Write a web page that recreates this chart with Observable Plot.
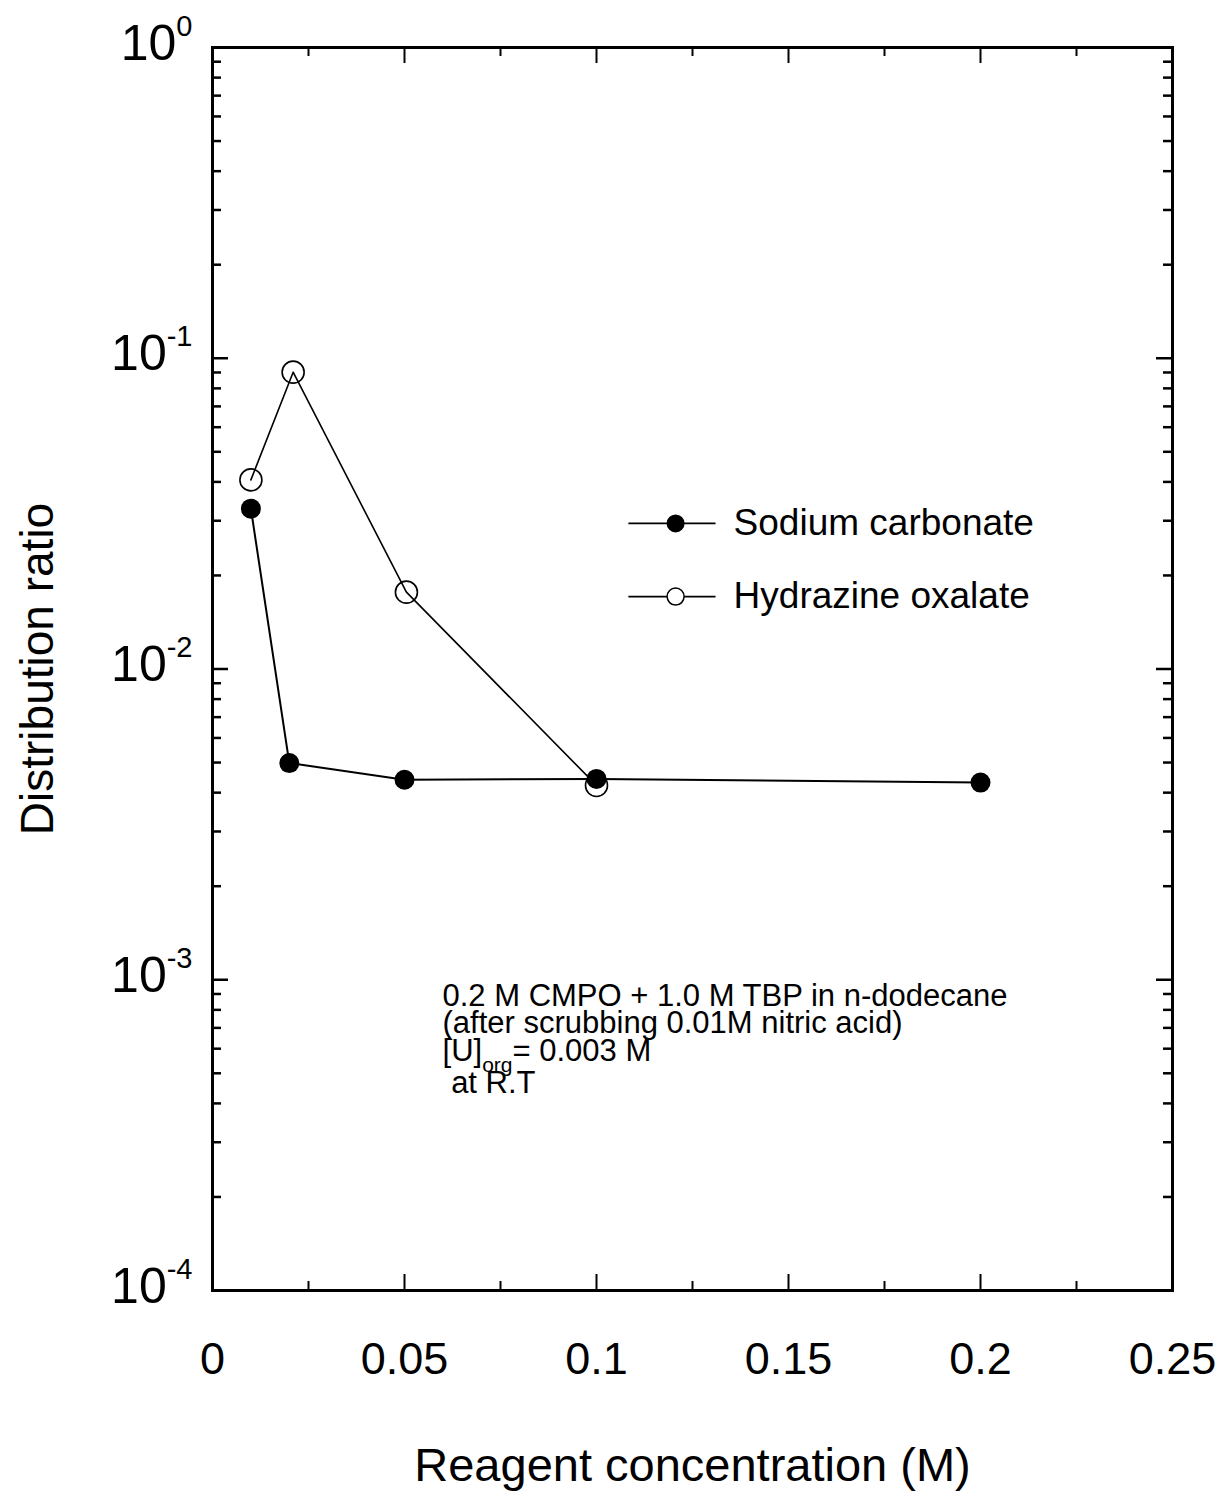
<!DOCTYPE html>
<html><head><meta charset="utf-8">
<script src="https://cdn.jsdelivr.net/npm/d3@7"></script>
<script src="https://cdn.jsdelivr.net/npm/@observablehq/plot@0.6"></script>
<style>
body{margin:0;background:#fff}
#chart svg{font-family:"Liberation Sans",Arial,Helvetica,sans-serif}
</style>
</head><body><div id="chart"></div>
<script>
// ---- data ----
const seriesNames = ["Sodium carbonate", "Hydrazine oxalate"];
const sodiumX = [0.01, 0.02, 0.05, 0.1, 0.2];
const sodiumY = [0.0328, 0.00498, 0.0044, 0.00443, 0.00431];
const hydrazineX = [0.01, 0.021, 0.0505, 0.1];
const hydrazineY = [0.0406, 0.0902, 0.01767, 0.00422];
const xTicks = [0, 0.05, 0.1, 0.15, 0.2, 0.25];
const xMinorTicks = [0.025, 0.075, 0.125, 0.175, 0.225];
const yTicks = [1e-4, 1e-3, 1e-2, 1e-1, 1];
const yTickExponents = ["-4", "-3", "-2", "-1", "0"];
const noteLines = ["0.2 M CMPO + 1.0 M TBP in n-dodecane", "(after scrubbing 0.01M nitric acid)", "[U]org= 0.003 M", "\u00a0at R.T"];
const xTitle = "Reagent concentration (M)";
const yTitle = "Distribution ratio";

// ---- layout ----
const W = 1224, H = 1491;
const mTop = 47, mRight = 52, mBottom = 201, mLeft = 212;
const innerW = W - mLeft - mRight, innerH = H - mTop - mBottom;
const majorLen = 16, minorLen = 9;
const noteFont = 31, noteLH = 0.88;

const yMinor = [];
for (let i = 0; i < yTicks.length - 1; i++) for (let k = 2; k <= 9; k++) yMinor.push(yTicks[i] * k);

const sodium = sodiumX.map((x, i) => ({x, y: sodiumY[i]}));
const hydrazine = hydrazineX.map((x, i) => ({x, y: hydrazineY[i]}));

// legend placement (data units)
const legX1 = 0.1083, legX2 = 0.131, legMark = 0.1206, legText = 0.1357;
const legY = [0.0294, 0.0171];
const legend = seriesNames.map((name, i) => ({name, y: legY[i]}));
const noteX = 0.0599, noteY = 9.5e-4;

const chart = Plot.plot({
  width: W, height: H,
  marginTop: mTop, marginRight: mRight, marginBottom: mBottom, marginLeft: mLeft,
  style: {fontFamily: "Liberation Sans, Arial, sans-serif", color: "black", background: "white", overflow: "visible"},
  x: {domain: [0, 0.25]},
  y: {type: "log", domain: [1e-4, 1]},
  marks: [
    // tick labels
    Plot.axisX(xTicks, {tickSize: 0, tickPadding: 52, fontSize: 45, tickFormat: d => String(d), label: null}),
    Plot.axisY(yTicks, {tickSize: 0, tickPadding: 20, fontSize: 50, dy: -4,
      tickFormat: d => "10^" + yTickExponents[yTicks.indexOf(d)], label: null}),
    // inward ticks: bottom / top
    Plot.tickX(xTicks.slice(1, -1), {x: d => d, insetTop: innerH - majorLen, strokeWidth: 2}),
    Plot.tickX(xMinorTicks, {x: d => d, insetTop: innerH - minorLen, strokeWidth: 2}),
    Plot.tickX(xTicks.slice(1, -1), {x: d => d, insetBottom: innerH - majorLen, strokeWidth: 2}),
    Plot.tickX(xMinorTicks, {x: d => d, insetBottom: innerH - minorLen, strokeWidth: 2}),
    // inward ticks: left / right
    Plot.tickY(yTicks, {y: d => d, insetRight: innerW - majorLen, strokeWidth: 2.5}),
    Plot.tickY(yMinor, {y: d => d, insetRight: innerW - minorLen, strokeWidth: 2.5}),
    Plot.tickY(yTicks, {y: d => d, insetLeft: innerW - majorLen, strokeWidth: 2.5}),
    Plot.tickY(yMinor, {y: d => d, insetLeft: innerW - minorLen, strokeWidth: 2.5}),
    Plot.frame({stroke: "black", strokeWidth: 3}),
    // series
    Plot.line(hydrazine, {x: "x", y: "y", stroke: "black", strokeWidth: 1.6}),
    Plot.dot(hydrazine, {x: "x", y: "y", r: 11, stroke: "black", strokeWidth: 1.6, fill: "none"}),
    Plot.line(sodium, {x: "x", y: "y", stroke: "black", strokeWidth: 2}),
    Plot.dot(sodium, {x: "x", y: "y", r: 10, fill: "black", stroke: "none"}),
    // legend
    Plot.link(legend, {x1: () => legX1, x2: () => legX2, y1: "y", y2: "y", stroke: "black", strokeWidth: 1.8}),
    Plot.dot(legend.slice(0, 1), {x: () => legMark, y: "y", r: 9, fill: "black"}),
    Plot.dot(legend.slice(1), {x: () => legMark, y: "y", r: 8.5, fill: "white", stroke: "black", strokeWidth: 1.5}),
    Plot.text(legend, {x: () => legText, y: "y", text: "name", textAnchor: "start", fontSize: 37, fill: "black"}),
    // annotation
    Plot.text([noteLines.join("\n")], {x: () => noteX, y: () => noteY, text: d => d, textAnchor: "start",
      lineAnchor: "top", lineHeight: noteLH, fontSize: noteFont, fill: "black"}),
    // axis titles
    Plot.text([yTitle], {frameAnchor: "left", text: d => d, rotate: -90, dx: -174, textAnchor: "middle", lineAnchor: "middle", fontSize: 46, fill: "black"}),
    Plot.text([xTitle], {frameAnchor: "bottom", text: d => d, dy: 175, textAnchor: "middle", lineAnchor: "middle", fontSize: 47, fill: "black"})
  ]
});

// superscript exponents on y tick labels
d3.select(chart).selectAll('g[aria-label="y-axis tick label"] text').each(function () {
  const t = this.textContent;
  const m = t.match(/^10\^(.*)$/);
  if (!m) return;
  const sel = d3.select(this);
  sel.text(null);
  sel.append("tspan").text("10");
  sel.append("tspan").attr("dy", -24).attr("font-size", 29).text(m[1]);
});
// subscript "org" and slightly lower last line
d3.select(chart).selectAll("tspan, text").each(function () {
  if (this.childNodes.length !== 1 || this.firstChild.nodeType !== 3) return;
  if (this.textContent === "[U]org= 0.003 M") {
    const sel = d3.select(this);
    sel.text("[U]");
    sel.append("tspan").attr("dy", 11).attr("font-size", 21).text("org");
    sel.append("tspan").attr("dy", -11).text("= 0.003 M");
  } else if (this.textContent === "\u00a0at R.T" && this.tagName === "tspan") {
    d3.select(this).attr("dy", noteLH * noteFont + 5);
  }
});

document.getElementById("chart").appendChild(chart);
</script>
</body></html>
